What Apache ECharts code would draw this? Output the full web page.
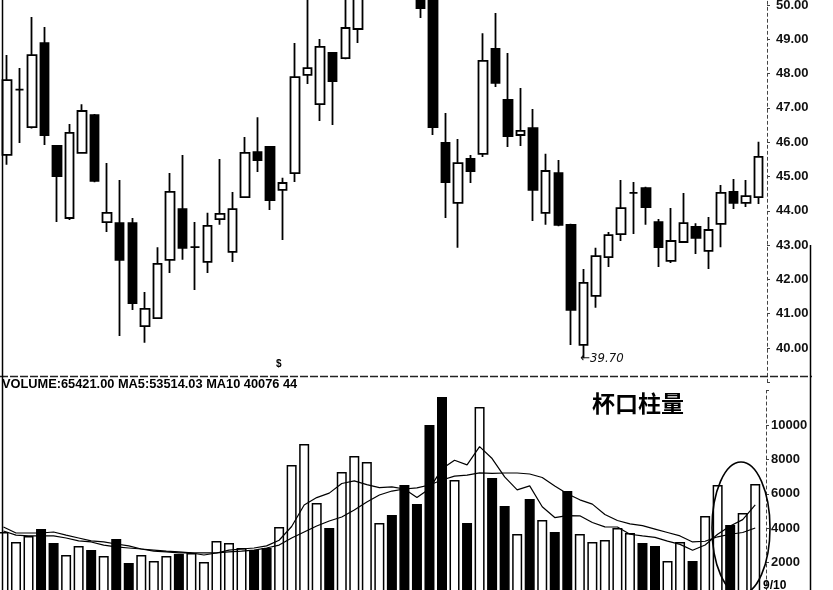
<!DOCTYPE html>
<html>
<head>
<meta charset="utf-8">
<script src="https://cdn.jsdelivr.net/npm/echarts@6/dist/echarts.min.js"></script>
<style>
html,body{margin:0;padding:0;background:#fff;}
#chart{width:833px;height:590px;}
</style>
</head>
<body>
<div id="chart"></div>
<script>
var categories = ['1','2','3','4','5','6','7','8','9','10','11','12','13','14','15','16','17','18','19','20',
  '21','22','23','24','25','26','27','28','29','30','31','32','33','34','35','36','37','38','39','40',
  '41','42','43','44','45','46','47','48','49','50','51','52','53','54','55','56','57','58','59','60','61'];

var opens = [45.63,47.53,46.44,48.89,45.89,43.79,45.69,46.79,43.67,43.64,43.64,40.64,40.87,42.57,44.05,42.94,42.51,43.76,42.80,44.40,
  45.71,45.86,44.61,45.10,47.96,47.11,48.60,48.45,49.30,50.40,51.00,51.80,51.50,50.50,50.30,45.98,44.23,45.51,45.66,48.72,
  47.23,46.21,46.41,43.94,45.10,43.59,40.09,41.52,42.65,43.32,44.52,44.66,43.67,42.54,43.09,43.53,42.83,43.62,44.55,44.23,44.40];
var closes = [47.81,47.53,48.54,46.21,45.01,46.27,46.91,44.87,43.94,42.57,41.31,41.14,42.45,44.55,42.92,42.94,43.56,43.91,44.05,45.69,
  45.48,44.31,44.81,47.90,48.16,48.78,47.78,49.33,50.35,51.20,51.60,51.20,50.80,49.91,46.44,44.84,45.39,45.16,48.37,47.73,
  46.18,46.33,44.61,45.16,43.59,41.11,41.90,42.68,43.29,44.08,44.52,44.11,42.94,43.12,43.64,43.21,43.44,44.52,44.23,44.43,45.57];
var lows = [45.34,45.98,46.40,45.92,43.67,43.73,45.66,44.83,43.38,40.35,41.11,40.15,40.85,42.19,42.57,41.69,42.19,43.59,42.51,44.38,
  45.13,44.02,43.15,44.84,47.70,46.62,46.50,48.42,48.89,50.30,50.70,50.90,50.50,49.62,46.21,43.79,42.92,44.81,45.57,47.61,
  45.86,45.89,43.70,43.59,43.55,40.09,39.70,41.17,42.36,43.12,43.32,43.59,42.36,42.48,43.06,42.74,42.30,42.94,44.05,44.11,44.20];
var highs = [48.54,48.16,49.65,49.36,45.92,46.53,47.11,46.82,45.39,44.90,43.79,41.63,42.94,45.10,45.63,43.67,43.94,45.51,44.55,46.15,
  46.73,45.88,44.96,48.89,50.50,49.01,48.62,50.40,50.80,51.50,52.00,52.20,51.90,50.80,50.50,46.85,46.09,45.63,49.18,49.77,
  48.60,47.58,46.97,45.66,45.48,43.62,42.30,42.92,43.38,44.90,44.84,44.70,43.76,44.08,44.52,43.64,43.82,44.75,44.93,44.90,46.01];
var volumes = [3780,3200,3550,3950,3140,2440,2970,2730,2380,3370,1980,2440,2090,2380,2500,2560,2030,3260,3140,2850,
  2730,2850,4070,7670,8900,5470,4010,7270,8200,7850,4300,4770,6510,5410,10000,11630,6800,4300,11050,6920,
  5290,3660,5700,4480,3780,6160,3660,3200,3310,4010,3720,3140,2970,2090,3200,2090,4710,6510,4190,4880,6570];
var ma5 = [4070,3720,3720,3720,3780,3600,3430,3260,3200,3080,2970,2790,2670,2620,2560,2560,2440,2560,2730,2790,
  2850,2970,3300,4100,5350,5780,6040,6600,6750,6530,6360,6400,6280,5790,6300,7450,7950,7680,8740,8050,
  6980,6230,6460,5250,4620,4730,4720,4330,4080,4070,3650,3550,3470,3250,3060,2720,3020,3650,4130,4500,5350];
var ma10 = [3840,3600,3550,3550,3550,3430,3260,3200,3020,2910,2850,2790,2730,2670,2620,2560,2560,2560,2620,2670,
  2730,2850,3020,3430,3780,4130,4420,4650,5060,5520,5930,6160,6280,6340,6510,6800,7030,7090,7220,7190,
  7210,7210,7150,6950,6450,6000,5650,5400,4800,4450,4250,4150,3950,3750,3550,3200,3240,3500,3650,3750,4010];
var priceTicks = [40,41,42,43,44,45,46,47,48,49,50];
var volumeTicks = [2000,4000,6000,8000,10000];

var candleData = opens.map(function(o, i){ return [o, closes[i], lows[i], highs[i]]; });
var volData = volumes.map(function(v, i){
  var up = closes[i] >= opens[i];
  return { value: v, itemStyle: { color: up ? '#ffffff' : '#000000', borderColor: '#000', borderWidth: 1.5 } };
});

var chart = echarts.init(document.getElementById('chart'), null, { renderer: 'canvas' });
var labelStyle = { color: '#111', fontFamily: 'Liberation Sans, Arial, sans-serif', fontWeight: 'bold', fontSize: 13 };

chart.setOption({
  animation: false,
  backgroundColor: '#fff',
  grid: [
    { left: 0.7, top: -29.3, width: 764.3, height: 411.6, outerBoundsMode: 'none', containLabel: false },
    { left: -2.8, top: 390.6, width: 764.3, height: 206.4, outerBoundsMode: 'none', containLabel: false }
  ],
  xAxis: [
    { type: 'category', gridIndex: 0, data: categories, boundaryGap: true, show: false },
    { type: 'category', gridIndex: 1, data: categories, boundaryGap: true, show: false }
  ],
  yAxis: [
    { type: 'value', gridIndex: 0, position: 'right', offset: 2, min: 39, max: 51, interval: 1,
      axisLine: { show: true, lineStyle: { color: '#444', width: 1, type: [3, 3] } },
      axisTick: { show: true, length: 3, lineStyle: { color: '#444' } },
      splitLine: { show: false },
      axisLabel: Object.assign({ margin: 9, formatter: function(v){ return priceTicks.indexOf(v) >= 0 ? v.toFixed(2) : ''; } }, labelStyle) },
    { type: 'value', gridIndex: 1, position: 'right', offset: 4.5, min: 0, max: 12000, interval: 2000,
      axisLine: { show: true, lineStyle: { color: '#444', width: 1, type: [3, 3] } },
      axisTick: { show: true, length: 3, lineStyle: { color: '#444' } },
      splitLine: { show: false },
      axisLabel: Object.assign({ margin: 5, formatter: function(v){ return volumeTicks.indexOf(v) >= 0 ? String(v) : ''; } }, labelStyle) }
  ],
  series: [
    { type: 'candlestick', xAxisIndex: 0, yAxisIndex: 0, data: candleData, barWidth: 9, clip: true,
      itemStyle: { color: '#ffffff', color0: '#000000', borderColor: '#000000', borderColor0: '#000000', borderWidth: 1.8 },
      markPoint: {
        symbol: 'circle', symbolSize: 0, silent: true,
        data: [{ coord: [categories[46], 39.70], value: 39.70 }],
        label: { show: true, position: 'right', distance: 0, offset: [-3, 0], formatter: '←39.70',
          color: '#111', fontSize: 13, fontFamily: 'DejaVu Sans Condensed, Liberation Sans, sans-serif', fontStyle: 'italic' }
      }
    },
    { type: 'bar', xAxisIndex: 1, yAxisIndex: 1, data: volData, barWidth: 10 },
    { type: 'line', xAxisIndex: 1, yAxisIndex: 1, data: ma5, symbol: 'none', lineStyle: { color: '#000', width: 1.2 } },
    { type: 'line', xAxisIndex: 1, yAxisIndex: 1, data: ma10, symbol: 'none', lineStyle: { color: '#000', width: 1.2 } }
  ],
  graphic: [
    { type: 'line', shape: { x1: 0, y1: 376.5, x2: 812, y2: 376.5 }, style: { stroke: '#222', lineWidth: 1.5, lineDash: [8, 2] }, z: 10 },
    { type: 'line', shape: { x1: 2.5, y1: 0, x2: 2.5, y2: 590 }, style: { stroke: '#000', lineWidth: 1.5 }, z: 10 },
    { type: 'line', shape: { x1: 810.5, y1: 245, x2: 810.5, y2: 590 }, style: { stroke: '#000', lineWidth: 1.5 }, z: 10 },
    { type: 'text', left: 2, top: 378, z: 10,
      style: { text: 'VOLUME:65421.00 MA5:53514.03 MA10 40076 44', fill: '#000', fontSize: 12.8, fontWeight: 'bold', fontFamily: 'Liberation Sans, Arial, sans-serif' } },
    { type: 'text', left: 592, top: 392, z: 10,
      style: { text: '杯口柱量', fill: '#000', fontSize: 23, fontWeight: 'bold', fontFamily: 'Noto Sans CJK SC' } },
    { type: 'text', left: 276, top: 359, z: 10,
      style: { text: '$', fill: '#000', fontSize: 10, fontWeight: 'bold', fontFamily: 'Liberation Sans, Arial, sans-serif' } },
    { type: 'ellipse', shape: { cx: 741, cy: 528, rx: 29, ry: 66 }, style: { fill: 'none', stroke: '#000', lineWidth: 1.6 }, z: 20 },
    { type: 'text', left: 763, top: 580, z: 10,
      style: { text: '9/10', fill: '#000', fontSize: 12, fontWeight: 'bold', fontFamily: 'Liberation Sans, Arial, sans-serif' } }
  ]
});
</script>
</body>
</html>
